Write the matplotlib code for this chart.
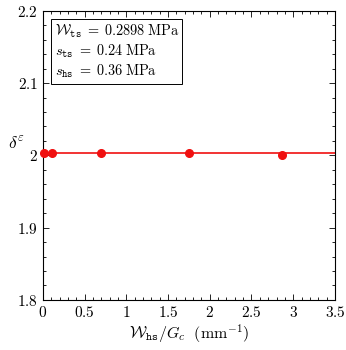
import matplotlib.pyplot as plt
import numpy as np
from matplotlib.ticker import MultipleLocator, FuncFormatter

plt.rcParams['mathtext.fontset'] = 'cm'
plt.rcParams['font.family'] = 'serif'
plt.rcParams['font.serif'] = ['DejaVu Serif']

# data
w_hs = [0.012, 0.107, 0.697, 1.753, 2.864]
delta = [2.004, 2.004, 2.003, 2.003, 2.000]
delta_fit = 2.003

fig = plt.figure(figsize=(3.46, 3.5), dpi=100)
ax = fig.add_axes([0.124, 0.143, 0.844, 0.826])

ax.axhline(delta_fit, color='#f01010', lw=1.2, zorder=2)
ax.plot(w_hs, delta, 'o', color='#f01010', ms=5.5, zorder=3, clip_on=False)

ax.set_xlim(0, 3.5)
ax.set_ylim(1.8, 2.2)
ax.xaxis.set_major_locator(MultipleLocator(0.5))
ax.xaxis.set_minor_locator(MultipleLocator(0.1))
ax.yaxis.set_major_locator(MultipleLocator(0.1))
ax.yaxis.set_minor_locator(MultipleLocator(0.02))
fmt = FuncFormatter(lambda v, p: '$%g$' % round(v, 3))
ax.xaxis.set_major_formatter(fmt)
ax.yaxis.set_major_formatter(fmt)
ax.tick_params(which='both', direction='in', top=True, right=True, width=0.6)
ax.tick_params(which='major', length=4, labelsize=11)
ax.tick_params(which='minor', length=2)
for s in ax.spines.values():
    s.set_linewidth(0.8)

ax.set_xlabel(r'$\mathcal{W}_{\mathtt{hs}}/G_c\ \ (\mathrm{mm}^{-1})$', fontsize=11.5, labelpad=2)
ax.set_ylabel(r'$\delta^{\varepsilon}$', fontsize=12.5, rotation=0, labelpad=8)
ax.yaxis.set_label_coords(-0.09, 0.505)

txt = (r'$\mathcal{W}_{\mathtt{ts}}\;=\;0.2898\;\mathrm{MPa}$' + '\n'
       r'$s_{\mathtt{ts}}\;=\;0.24\;\mathrm{MPa}$' + '\n'
       r'$s_{\mathtt{hs}}\;=\;0.36\;\mathrm{MPa}$')
ax.text(0.04, 0.96, txt, transform=ax.transAxes, va='top', ha='left', fontsize=10.3,
        linespacing=1.22,
        bbox=dict(boxstyle='square,pad=0.22', fc='white', ec='black', lw=0.7))

plt.savefig('out.png', dpi=100)
